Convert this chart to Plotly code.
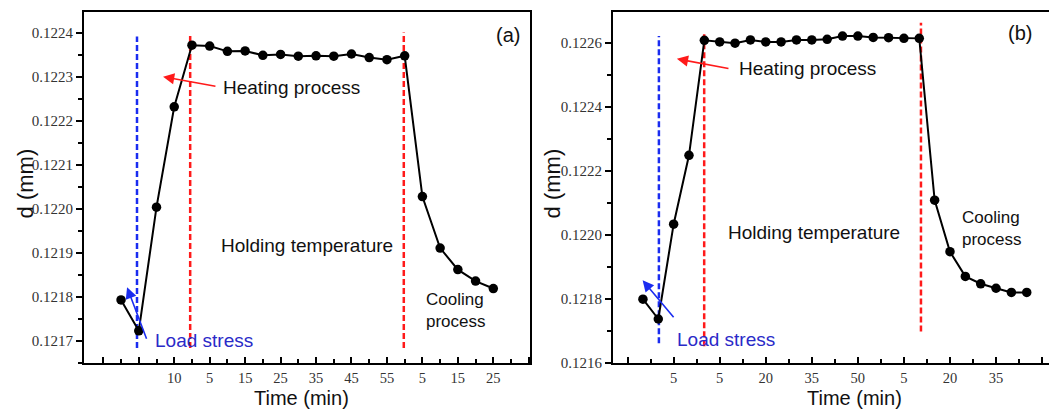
import plotly.graph_objects as go

W, H = 1049, 417

# ---------------- data (a) ----------------
a_idx = [0, 1, 2, 3, 4, 5, 6, 7, 8, 9, 10, 11, 12, 13, 14, 15, 16, 17, 18, 19, 20, 21]
a_d = [0.121793, 0.121723, 0.122004, 0.122232,
       0.122372, 0.122370, 0.122358, 0.122359, 0.122349, 0.122351, 0.122347,
       0.122348, 0.122347, 0.122352, 0.122344, 0.122339, 0.122348,
       0.122028, 0.121911, 0.121862, 0.121836, 0.121819]
a_tickvals = [-1, 1, 3, 5, 7, 9, 11, 13, 15, 17, 19, 21, 23]
a_ticktext = ["", "", "10", "5", "15", "25", "35", "45", "55", "5", "15", "25", ""]
a_minor = [0, 2, 4, 6, 8, 10, 12, 14, 16, 18, 20, 22]
a_blue_x, a_blue_y = 0.9, [0.121684, 0.122392]
a_red_x = [3.9, 15.95]
a_red_y = [[0.121684, 0.122396], [0.121684, 0.122401]]

# ---------------- data (b) ----------------
b_idx = [0, 1, 2, 3, 4, 5, 6, 7, 8, 9, 10, 11, 12, 13, 14, 15, 16, 17, 18,
         19, 20, 21, 22, 23, 24, 25]
b_d = [0.121799, 0.121737, 0.122033, 0.122248,
       0.122607, 0.122602, 0.122598, 0.122608, 0.122602, 0.122602, 0.122608,
       0.122608, 0.122610, 0.122620, 0.122620, 0.122616, 0.122615, 0.122613,
       0.122613,
       0.122108, 0.121947, 0.121870, 0.121847, 0.121833, 0.121820, 0.121820]
b_tickvals = [-1, 2, 5, 8, 11, 14, 17, 20, 23, 26]
b_ticktext = ["", "5", "5", "20", "35", "50", "5", "20", "35", ""]
b_minor = [0.5, 3.5, 6.5, 9.5, 12.5, 15.5, 18.5, 21.5, 24.5]
b_blue_x, b_blue_y = 1.04, [0.121661, 0.122620]
b_red_x = [3.99, 18.11]
b_red_y = [[0.121652, 0.122632], [0.121698, 0.122662]]

# ---------------- styling ----------------
TXT = "Liberation Sans, Arial, sans-serif"
SERIF = "Liberation Serif, Times New Roman, serif"
RED = "#ff1a1a"
BLUE = "#1a2cf0"
TEXTBLUE = "#2a2ac8"

fig = go.Figure()

def add_panel(xs, ys, xa, ya, blue_x, blue_y, red_x, red_y):
    fig.add_trace(go.Scatter(x=[blue_x, blue_x], y=blue_y, mode="lines",
                             line=dict(color=BLUE, width=2.5, dash="6px,3px"),
                             xaxis=xa, yaxis=ya, showlegend=False, hoverinfo="skip"))
    for rx, ry in zip(red_x, red_y):
        fig.add_trace(go.Scatter(x=[rx, rx], y=ry, mode="lines",
                                 line=dict(color=RED, width=2.5, dash="6px,3px"),
                                 xaxis=xa, yaxis=ya, showlegend=False, hoverinfo="skip"))
    fig.add_trace(go.Scatter(x=xs, y=ys, mode="lines+markers",
                             line=dict(color="black", width=2),
                             marker=dict(color="black", size=9.5),
                             xaxis=xa, yaxis=ya, showlegend=False))

add_panel(a_idx, a_d, "x", "y", a_blue_x, a_blue_y, a_red_x, a_red_y)
add_panel(b_idx, b_d, "x2", "y2", b_blue_x, b_blue_y, b_red_x, b_red_y)

ydom = [1 - 370 / H, 1 - 12 / H]

def xaxis_cfg(dom, rng, tv, tt, minor_vals):
    return dict(domain=dom, range=rng, tickmode="array", tickvals=tv, ticktext=tt,
                ticks="inside", ticklen=6, tickwidth=1.5, tickcolor="black",
                minor=dict(tickmode="array", tickvals=minor_vals, ticks="inside",
                           ticklen=4, tickwidth=1.5, tickcolor="black"),
                showline=True, linecolor="black", linewidth=2, mirror=True,
                showgrid=False, zeroline=False, ticklabelstandoff=1,
                tickfont=dict(family=SERIF, size=14.5, color="#333333"))

def yaxis_cfg(anchor, rng, tick0, dtick, mdtick, mirror):
    return dict(domain=ydom, anchor=anchor, range=rng, tickmode="linear", tick0=tick0,
                dtick=dtick, tickformat=".4f",
                ticks="outside", ticklen=6, tickwidth=1.5, tickcolor="black",
                minor=dict(tick0=tick0, dtick=mdtick, ticks="outside", ticklen=4,
                           tickwidth=1.5, tickcolor="black"),
                showline=True, linecolor="black", linewidth=2, mirror=mirror,
                showgrid=False, zeroline=False,
                tickfont=dict(family=SERIF, size=15, color="#333333"))

fig.update_layout(
    width=W, height=H, margin=dict(l=0, r=0, t=0, b=0),
    paper_bgcolor="white", plot_bgcolor="white",
    xaxis=dict(anchor="y", **xaxis_cfg([84 / W, 530 / W], [-2.09, 23.07],
                                        a_tickvals, a_ticktext, a_minor)),
    yaxis=yaxis_cfg("x", [0.12165, 0.122448], 0.1217, 0.0001, 0.00005, True),
    xaxis2=dict(anchor="y2", **xaxis_cfg([613 / W, 1.0], [-1.95, 26.45],
                                          b_tickvals, b_ticktext, b_minor)),
    yaxis2=yaxis_cfg("x2", [0.1216, 0.122696], 0.1216, 0.0002, 0.0001, False),
)

ann = []

def text(x, y, s, xr, yr, size=19, color="#111111", xanchor="left", align="left"):
    ann.append(dict(x=x, y=y, xref=xr, yref=yr, text=s, showarrow=False,
                    xanchor=xanchor, yanchor="middle", align=align,
                    font=dict(family=TXT, size=size, color=color)))

def arrow(hx, hy, tx, ty, xr, yr, color):
    ann.append(dict(x=hx, y=hy, ax=tx, ay=ty, xref=xr, yref=yr, axref=xr, ayref=yr,
                    text="", showarrow=True, arrowhead=2, arrowsize=1.4,
                    arrowwidth=1.6, arrowcolor=color))

# panel (a)
text(21.83, 0.122396, "(a)", "x", "y", size=20, xanchor="center")
text(5.64, 0.122276, "Heating process", "x", "y")
text(10.49, 0.121917, "Holding temperature", "x", "y", xanchor="center")
text(17.09, 0.121768, "Cooling<br>process", "x", "y", size=17)
text(1.80, 0.121702, "Load stress", "x", "y", color=TEXTBLUE)
arrow(2.37, 0.1223004, 5.41, 0.122278, "x", "y", RED)
arrow(0.34, 0.121822, 1.47, 0.1217013, "x", "y", BLUE)

# panel (b)
text(24.56, 0.122631, "(b)", "x2", "y2", size=20, xanchor="center")
text(6.12, 0.122518, "Heating process", "x2", "y2")
text(11.14, 0.122007, "Holding temperature", "x2", "y2", xanchor="center")
text(20.62, 0.122020, "Cooling<br>process", "x2", "y2", size=17)
text(2.08, 0.121673, "Load stress", "x2", "y2", color=TEXTBLUE)
arrow(2.21, 0.122549, 5.67, 0.122518, "x2", "y2", RED)
arrow(-0.02, 0.121858, 2.08, 0.121738, "x2", "y2", BLUE)

# axis titles
for xc in (25, 552):
    ann.append(dict(x=xc / W, y=1 - 187 / H, xref="paper", yref="paper", text="d (mm)",
                    textangle=-90, showarrow=False, xanchor="center", yanchor="middle",
                    font=dict(family=TXT, size=22, color="#111111")))
for xc in (301, 854):
    ann.append(dict(x=xc / W, y=1 - 406 / H, xref="paper", yref="paper", text="Time (min)",
                    showarrow=False, xanchor="center", yanchor="middle",
                    font=dict(family=TXT, size=20, color="#111111")))

fig.update_layout(annotations=ann)
fig.write_html("out.html")
